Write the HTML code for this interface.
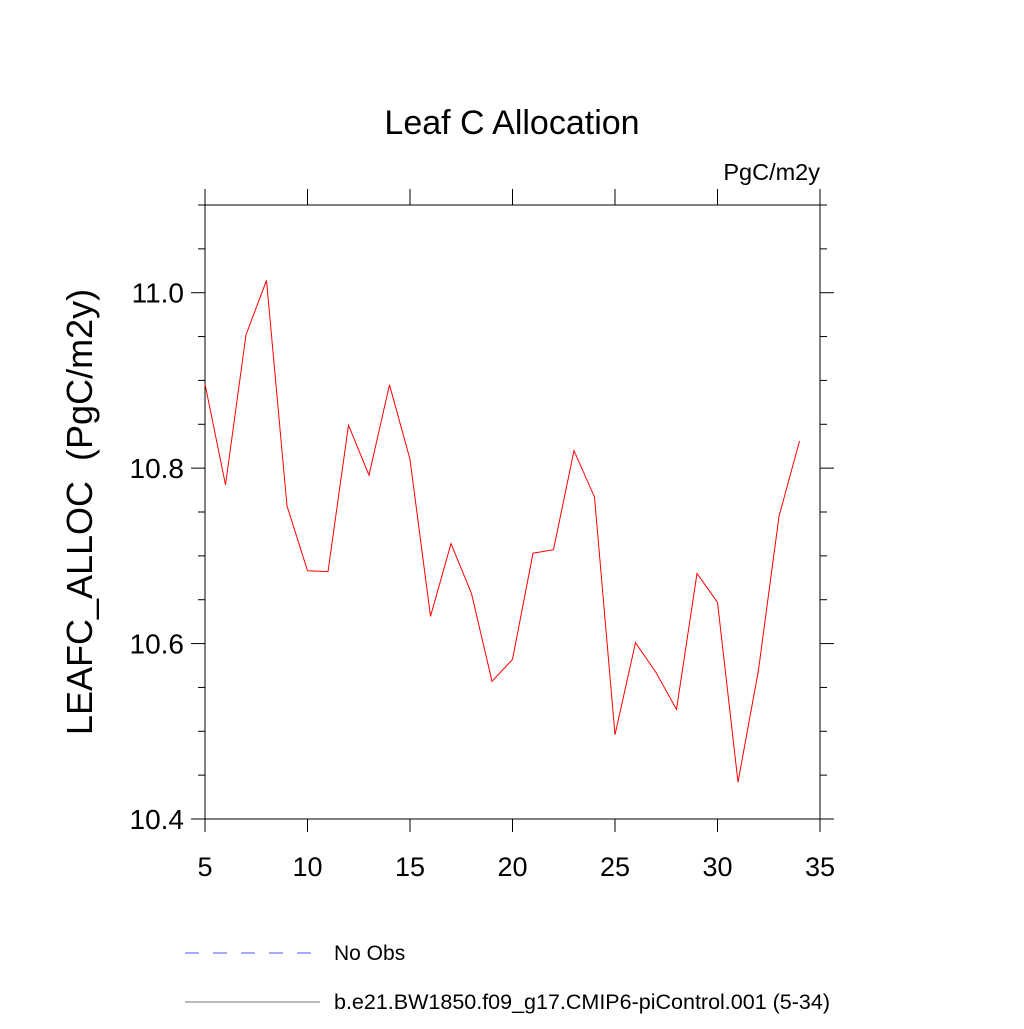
<!DOCTYPE html>
<html><head><meta charset="utf-8"><style>
body{margin:0;background:#fff;}
svg text{font-family:"Liberation Sans",Arial,sans-serif;}
</style></head><body>
<svg id="chart" width="1024" height="1024" xmlns="http://www.w3.org/2000/svg">
<text x="512" y="134" font-size="34" text-anchor="middle">Leaf C Allocation</text>
<text x="820" y="180" font-size="23.5" text-anchor="end">PgC/m2y</text>
<text transform="translate(92,512) rotate(-90)" font-size="36" text-anchor="middle" xml:space="preserve">LEAFC_ALLOC  (PgC/m2y)</text>
<g id="axes"></g>
<g id="series"></g>
<line x1="185" y1="953" x2="320" y2="953" stroke="#5050ff" stroke-width="1" stroke-dasharray="14,14"/>
<text x="334" y="960" font-size="21">No Obs</text>
<line x1="185" y1="1002" x2="320" y2="1002" stroke="#777" stroke-width="1"/>
<text x="334" y="1009" font-size="21.5">b.e21.BW1850.f09_g17.CMIP6-piControl.001 (5-34)</text>
</svg>
<script>
const years=[5,6,7,8,9,10,11,12,13,14,15,16,17,18,19,20,21,22,23,24,25,26,27,28,29,30,31,32,33,34];
const values=[10.896,10.781,10.952,11.014,10.757,10.683,10.682,10.849,10.792,10.895,10.810,10.631,10.714,10.657,10.557,10.582,10.703,10.707,10.820,10.767,10.496,10.601,10.567,10.525,10.680,10.647,10.442,10.570,10.745,10.831];
const xTicks=[5,10,15,20,25,30,35];
const yTicks=[10.4,10.6,10.8,11.0];
const yTickLabels=["10.4","10.6","10.8","11.0"];
const NS="http://www.w3.org/2000/svg";
const L=205,R=820,T=205,B=819,xMin=5,xMax=35,yMin=10.4,yMax=11.1;
const xs=v=>L+(v-xMin)/(xMax-xMin)*(R-L);
const ys=v=>B-(v-yMin)/(yMax-yMin)*(B-T);
const axes=document.getElementById('axes');
function mk(tag,attrs,parent){const e=document.createElementNS(NS,tag);for(const k in attrs)e.setAttribute(k,attrs[k]);parent.appendChild(e);return e;}
const frame=mk('rect',{x:L,y:T,width:R-L,height:B-T,fill:'none',stroke:'#000','stroke-width':1},axes);


xTicks.forEach(t=>{const x=xs(t);
 const a=mk('line',{x1:x,y1:B,x2:x,y2:B+13,stroke:'#000'},axes);
 
 
 const b=mk('line',{x1:x,y1:T,x2:x,y2:T-16,stroke:'#000'},axes);
 
 
 const tx=mk('text',{x:x,y:876,'font-size':27,'text-anchor':'middle'},axes);tx.textContent=t;
 
 
});
for(let v=10.4;v<=11.1001;v+=0.05){const y=ys(v);const major=Math.abs(Math.round(v*10)/10-v)<1e-6&&Math.round(v*10)%2===0;
 const len=major?14:7;
 const a=mk('line',{x1:L,y1:y,x2:L-len,y2:y,stroke:'#000'},axes);
 
 
 const b=mk('line',{x1:R,y1:y,x2:R+len,y2:y,stroke:'#000'},axes);
 
 
}
yTicks.forEach((t,i)=>{const tx=mk('text',{x:184,y:ys(t)+10,'font-size':28,'text-anchor':'end'},axes);tx.textContent=yTickLabels[i];
 
 
});
const pts=years.map((yr,i)=>xs(yr)+','+ys(values[i])).join(' ');
const line=mk('polyline',{points:pts,fill:'none',stroke:'#ff0000','stroke-width':1},document.getElementById('series'));


</script>
</body></html>
